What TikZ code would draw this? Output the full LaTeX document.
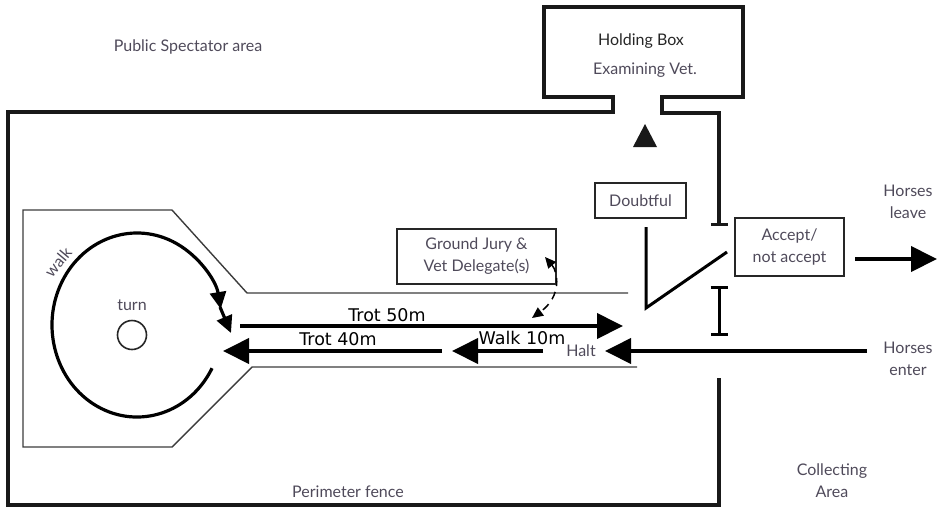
\documentclass[tikz,border=0pt]{standalone}
\usepackage{fontspec}
\setmainfont{Lato}
\newfontfamily\dejavu{DejaVu Sans}
\usetikzlibrary{arrows.meta}
\definecolor{txt}{HTML}{4F4A5A}
\definecolor{thinc}{HTML}{3C3C3C}
\begin{document}
\begin{tikzpicture}[x=1pt,y=-1pt,
  lbl/.style={text=txt,font=\fontsize{16}{18}\selectfont,inner sep=0pt,align=center},
  dark/.style={text=black!85,font=\fontsize{16}{18}\selectfont,inner sep=0pt},
  biglbl/.style={font=\dejavu\fontsize{17.5}{19}\selectfont,inner sep=0pt,text=black},
  fence/.style={line width=3.2pt,line join=miter,draw=black!90},
  thinline/.style={line width=1.4pt,draw=thinc},
  boxed/.style={draw=black!85,line width=1.8pt,text=txt,font=\fontsize{16}{18}\selectfont,inner sep=0pt,align=center},
  bigarrow/.style={line width=4pt,-{Triangle[length=26pt,width=25pt]}},
  walkline/.style={line width=3.2pt,-{Triangle[length=17pt,width=16pt]}},
  capped/.style={line width=3pt},
  barend/.style={-{Bar[width=17pt,line width=3pt]}},
  gatel/.style={line width=3pt,line join=miter},
]
\useasboundingbox (0,0) rectangle (942,507);

% perimeter fence and holding box
\draw[fence,barend] (719,378) -- (719,505) -- (8,505) -- (8,112) -- (613,112) -- (613,97)
  -- (544,97) -- (544,7) -- (743,7) -- (743,97) -- (662,97) -- (662,113) -- (719,113) -- (719,226);
\draw[capped,{Bar[width=17pt,line width=3pt]}-{Bar[width=17pt,line width=3pt]}] (719,286) -- (719,336);

% trotting lane outline
\draw[thinline,line join=miter] (628,293) -- (247,293) -- (172,210) -- (23,210) -- (23,447) -- (172,447) -- (252,367) -- (637,367);

% walk circle
\draw[walkline] (137,325) ++(28:85 and 92) arc[start angle=28,end angle=350,x radius=85,y radius=92];
\coordinate (w2s) at (220,307);
\coordinate (w2e) at (231,333);
\draw[walkline] (w2s) -- (w2e);
\node[draw=black!85,line width=1.6pt,circle,minimum size=29pt,inner sep=0pt] (turnc) at (132,335) {};
\node[lbl,text=txt] (turn) at (132,305) {turn};
\node[lbl,rotate=50] (walk) at (58,262) {walk};

% holding box labels
\node[dark] (hb) at (641,41) {Holding Box};
\node[lbl] (ev) at (645,70) {Examining Vet.};
\node[lbl] (psa) at (188,47) {Public Spectator area};
\node[lbl] (pf) at (348,492) {Perimeter fence};
\node[lbl] (ca) at (832,481) {Collecting\\[4pt]Area};
\node[lbl] (hl) at (908,202) {Horses\\[4pt]leave};
\node[lbl] (he) at (908,359) {Horses\\[4pt]enter};

% up triangle
\fill[black!90] (645,124) -- (657,147) -- (633,147) -- cycle;

% boxes
\node[boxed,minimum width=91pt,minimum height=35pt] (doubt) at (640.5,200.5) {Doubtful};
\node[boxed,minimum width=159pt,minimum height=55pt] (gj) at (476.5,256.5) {Ground Jury \&\\[4pt]Vet Delegate(s)};
\node[boxed,minimum width=109pt,minimum height=58pt] (acc) at (789.5,247) {Accept/\\[4pt]not accept};

% gate
\draw[gatel] (646,227) -- (646,308) -- (727,252);

% arrows
\coordinate (leaveS) at (855,259);
\coordinate (leaveE) at (937,259);
\draw[bigarrow] (leaveS) -- (leaveE);
\coordinate (enterS) at (867,351);
\coordinate (enterE) at (605,351);
\draw[bigarrow] (enterS) -- (enterE);
\coordinate (t50s) at (240,326);
\coordinate (t50e) at (623,326);
\draw[bigarrow] (t50s) -- (t50e);
\coordinate (t40s) at (442,351);
\coordinate (t40e) at (223,351);
\draw[bigarrow] (t40s) -- (t40e);
\coordinate (w10s) at (543,351);
\coordinate (w10e) at (452,351);
\draw[bigarrow] (w10s) -- (w10e);

\node[biglbl] (l50) at (387,315) {Trot 50m};
\node[biglbl] (l40) at (338,339) {Trot 40m};
\node[biglbl] (l10) at (522,338) {Walk 10m};
\node[lbl] (halt) at (581,351) {Halt};

% dashed double arrow
\coordinate (da) at (545,257);
\coordinate (db) at (532,318);
\draw[line width=1.5pt,dash pattern=on 8pt off 6pt,{Triangle[length=11pt,width=10pt]}-{Triangle[length=11pt,width=10pt]}]
  (da) .. controls (558,272) and (562,296) .. (db);
\end{tikzpicture}
\end{document}
